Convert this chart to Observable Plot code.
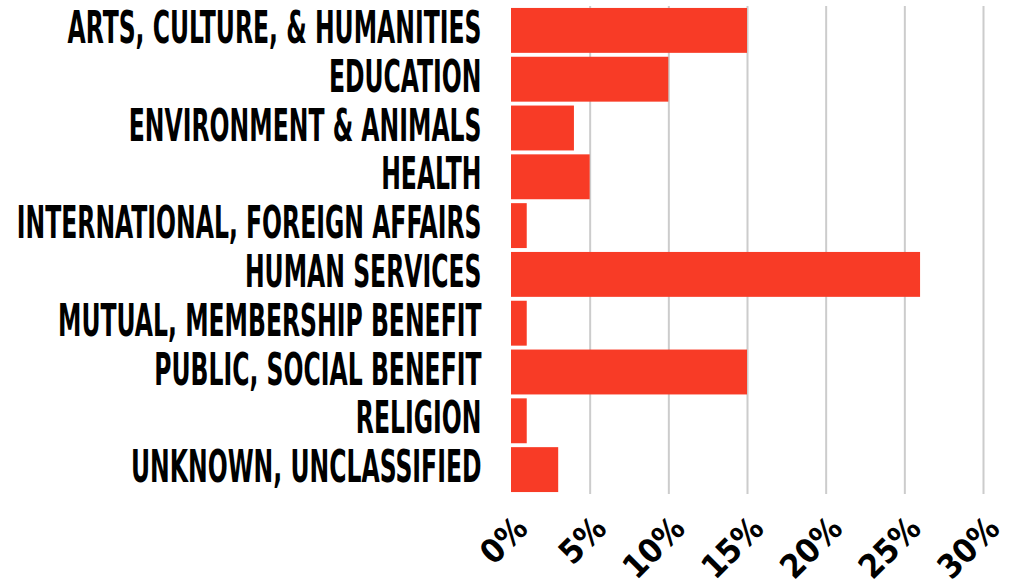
<!DOCTYPE html>
<html><head><meta charset="utf-8">
<script src="https://cdn.jsdelivr.net/npm/d3@7"></script>
<script src="https://cdn.jsdelivr.net/npm/@observablehq/plot@0.6"></script>
<style>body{margin:0;background:#fff}</style>
</head><body><div id="chart"></div>
<script>
const categories = [
  "ARTS, CULTURE, & HUMANITIES",
  "EDUCATION",
  "ENVIRONMENT & ANIMALS",
  "HEALTH",
  "INTERNATIONAL, FOREIGN AFFAIRS",
  "HUMAN SERVICES",
  "MUTUAL, MEMBERSHIP BENEFIT",
  "PUBLIC, SOCIAL BENEFIT",
  "RELIGION",
  "UNKNOWN, UNCLASSIFIED"
];
const shares = [15, 10, 4, 5, 1, 26, 1, 15, 1, 3];
const xTicks = [0, 5, 10, 15, 20, 25, 30];
const data = categories.map((c, i) => ({category: c, share: shares[i]}));
const font = `"Liberation Sans Narrow","DejaVu Sans Condensed","Liberation Sans",sans-serif`;

const chart = Plot.plot({
  width: 1015, height: 587,
  marginLeft: 511, marginRight: 32, marginTop: 6, marginBottom: 93,
  style: {fontFamily: font, background: "#fff"},
  x: {domain: [0, 30], axis: null},
  y: {domain: categories, paddingInner: 0.08, paddingOuter: 0.04, round: false, axis: null},
  marks: [
    Plot.ruleX(xTicks.filter(t => t > 0), {stroke: "#cccccc", strokeWidth: 2}),
    Plot.barX(data, {x: "share", y: "category", fill: "#f83b26"}),
    Plot.axisY({tickSize: 0, tickPadding: 30, fontSize: 44, fontWeight: "bold", fill: "#000", label: null, dy: -2}),
    Plot.text(xTicks, {x: d => d, frameAnchor: "bottom", dx: 18, dy: 36, rotate: -45,
      textAnchor: "end", lineAnchor: "bottom", text: d => d + "%", fontSize: 33,
      fontWeight: "bold", fill: "#000", ariaLabel: "x tick label"})
  ]
});
document.getElementById("chart").appendChild(chart);

function compress(selector, refIndex, target) {
  const els = Array.from(chart.querySelectorAll(selector));
  if (!els.length) return;
  const ref = els[refIndex].getComputedTextLength();
  const f = Math.min(1, target / ref);
  els.forEach(el => {
    const len = el.getComputedTextLength();
    el.setAttribute("textLength", len * f);
    el.setAttribute("lengthAdjust", "spacingAndGlyphs");
  });
}
compress('g[aria-label="y-axis tick label"] text', 0, 414);
compress('g[aria-label="x tick label"] text', 6, 50);
</script>
</body></html>
